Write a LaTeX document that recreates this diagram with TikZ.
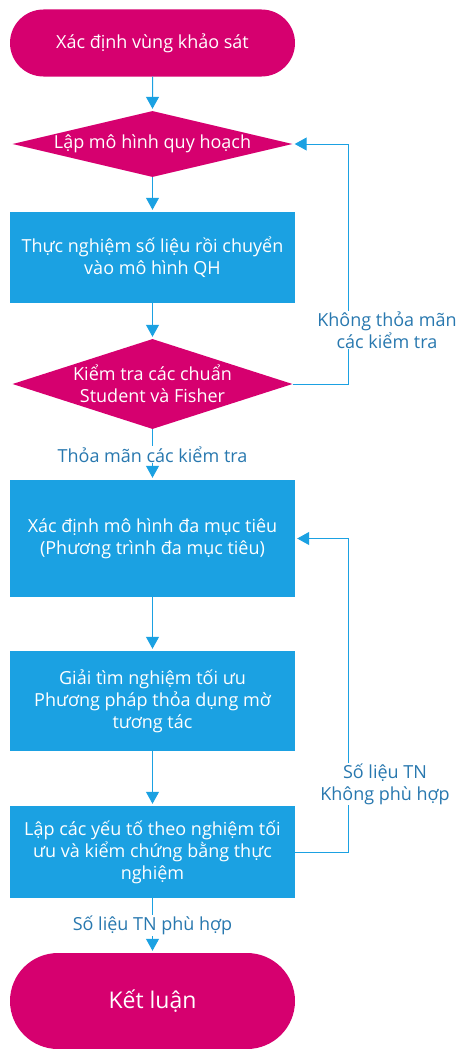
\documentclass[tikz,border=0pt]{standalone}
\usepackage{fontspec}
\setmainfont{Open Sans}
\usetikzlibrary{shapes.geometric, shapes.misc, positioning, arrows.meta}
\definecolor{flowmagenta}{RGB}{214,0,111}
\definecolor{flowblue}{RGB}{27,161,226}
\definecolor{labelblue}{RGB}{40,120,175}

\begin{document}
\begin{tikzpicture}[shorten >=2pt, on grid, >={Triangle[length=12pt,width=13pt]},
    font=\fontsize{18pt}{22pt}\selectfont,
    terminal/.style={rounded rectangle, fill=flowmagenta, text=white, minimum width=285pt, inner sep=0pt},
    decision/.style={diamond, fill=flowmagenta, text=white, minimum width=280pt, inner sep=0pt, align=center},
    process/.style={rectangle, fill=flowblue, text=white, minimum width=285pt, inner sep=0pt, align=center},
    flow/.style={draw=flowblue, line width=1pt},
    note/.style={text=labelblue, fill=white, align=center, inner sep=1pt}]
            \useasboundingbox (0,0) rectangle (459pt,-1049pt);
            \node[terminal, minimum height=67pt] (start) at (152.5pt,-43pt) {Xác định vùng khảo sát};
            \node[decision, aspect=4.2, minimum height=66pt] (model) [below=101pt of start] {Lập mô hình quy hoạch};
            \node[process, minimum height=91pt] (exper) [below=113.5pt of model] {Thực nghiệm số liệu rồi chuyển\\vào mô hình QH};
            \node[decision, aspect=3.1, minimum height=90pt] (check) [below=126.5pt of exper] {Kiểm tra các chuẩn\\Student và Fisher};
            \node[process, minimum height=117pt] (multi) [below=154.5pt of check] {Xác định mô hình đa mục tiêu\\(Phương trình đa mục tiêu)};
            \node[process, minimum height=100pt] (solve) [below=162.5pt of multi] {Giải tìm nghiệm tối ưu\\Phương pháp thỏa dụng mờ\\tương tác};
            \node[process, minimum height=92pt] (verify) [below=151pt of solve] {Lập các yếu tố theo nghiệm tối\\ưu và kiểm chứng bằng thực\\nghiệm};
            \node[terminal, minimum height=96pt, font=\fontsize{23pt}{26pt}\selectfont] (concl) [below=149pt of verify] {Kết luận};
            \draw[flow, ->] (start) -- (model);
            \draw[flow, ->] (model) -- (exper);
            \draw[flow, ->] (exper) -- (check);
            \draw[flow, ->] (check) -- node[note] {Thỏa mãn các kiểm tra} (multi);
            \draw[flow, ->] (multi) -- (solve);
            \draw[flow, ->] (solve) -- (verify);
            \draw[flow, ->] (verify) -- node[note] {Số liệu TN phù hợp} (concl);
            % feedback loops
            \coordinate (loopA) at (348pt,-384pt);
            \coordinate (loopB) at (348pt,-852pt);
            \draw[flow, ->] (check.east) -- (loopA) |- (model.east);
            \draw[flow, ->] (verify.east) -- (loopB) |- (multi.east);
            \node[note] (failA) at (387pt,-330pt) {Không thỏa mãn\\các kiểm tra};
            \node[note] (failB) at (385pt,-784pt) {Số liệu TN\\Không phù hợp};
\end{tikzpicture}
\end{document}
